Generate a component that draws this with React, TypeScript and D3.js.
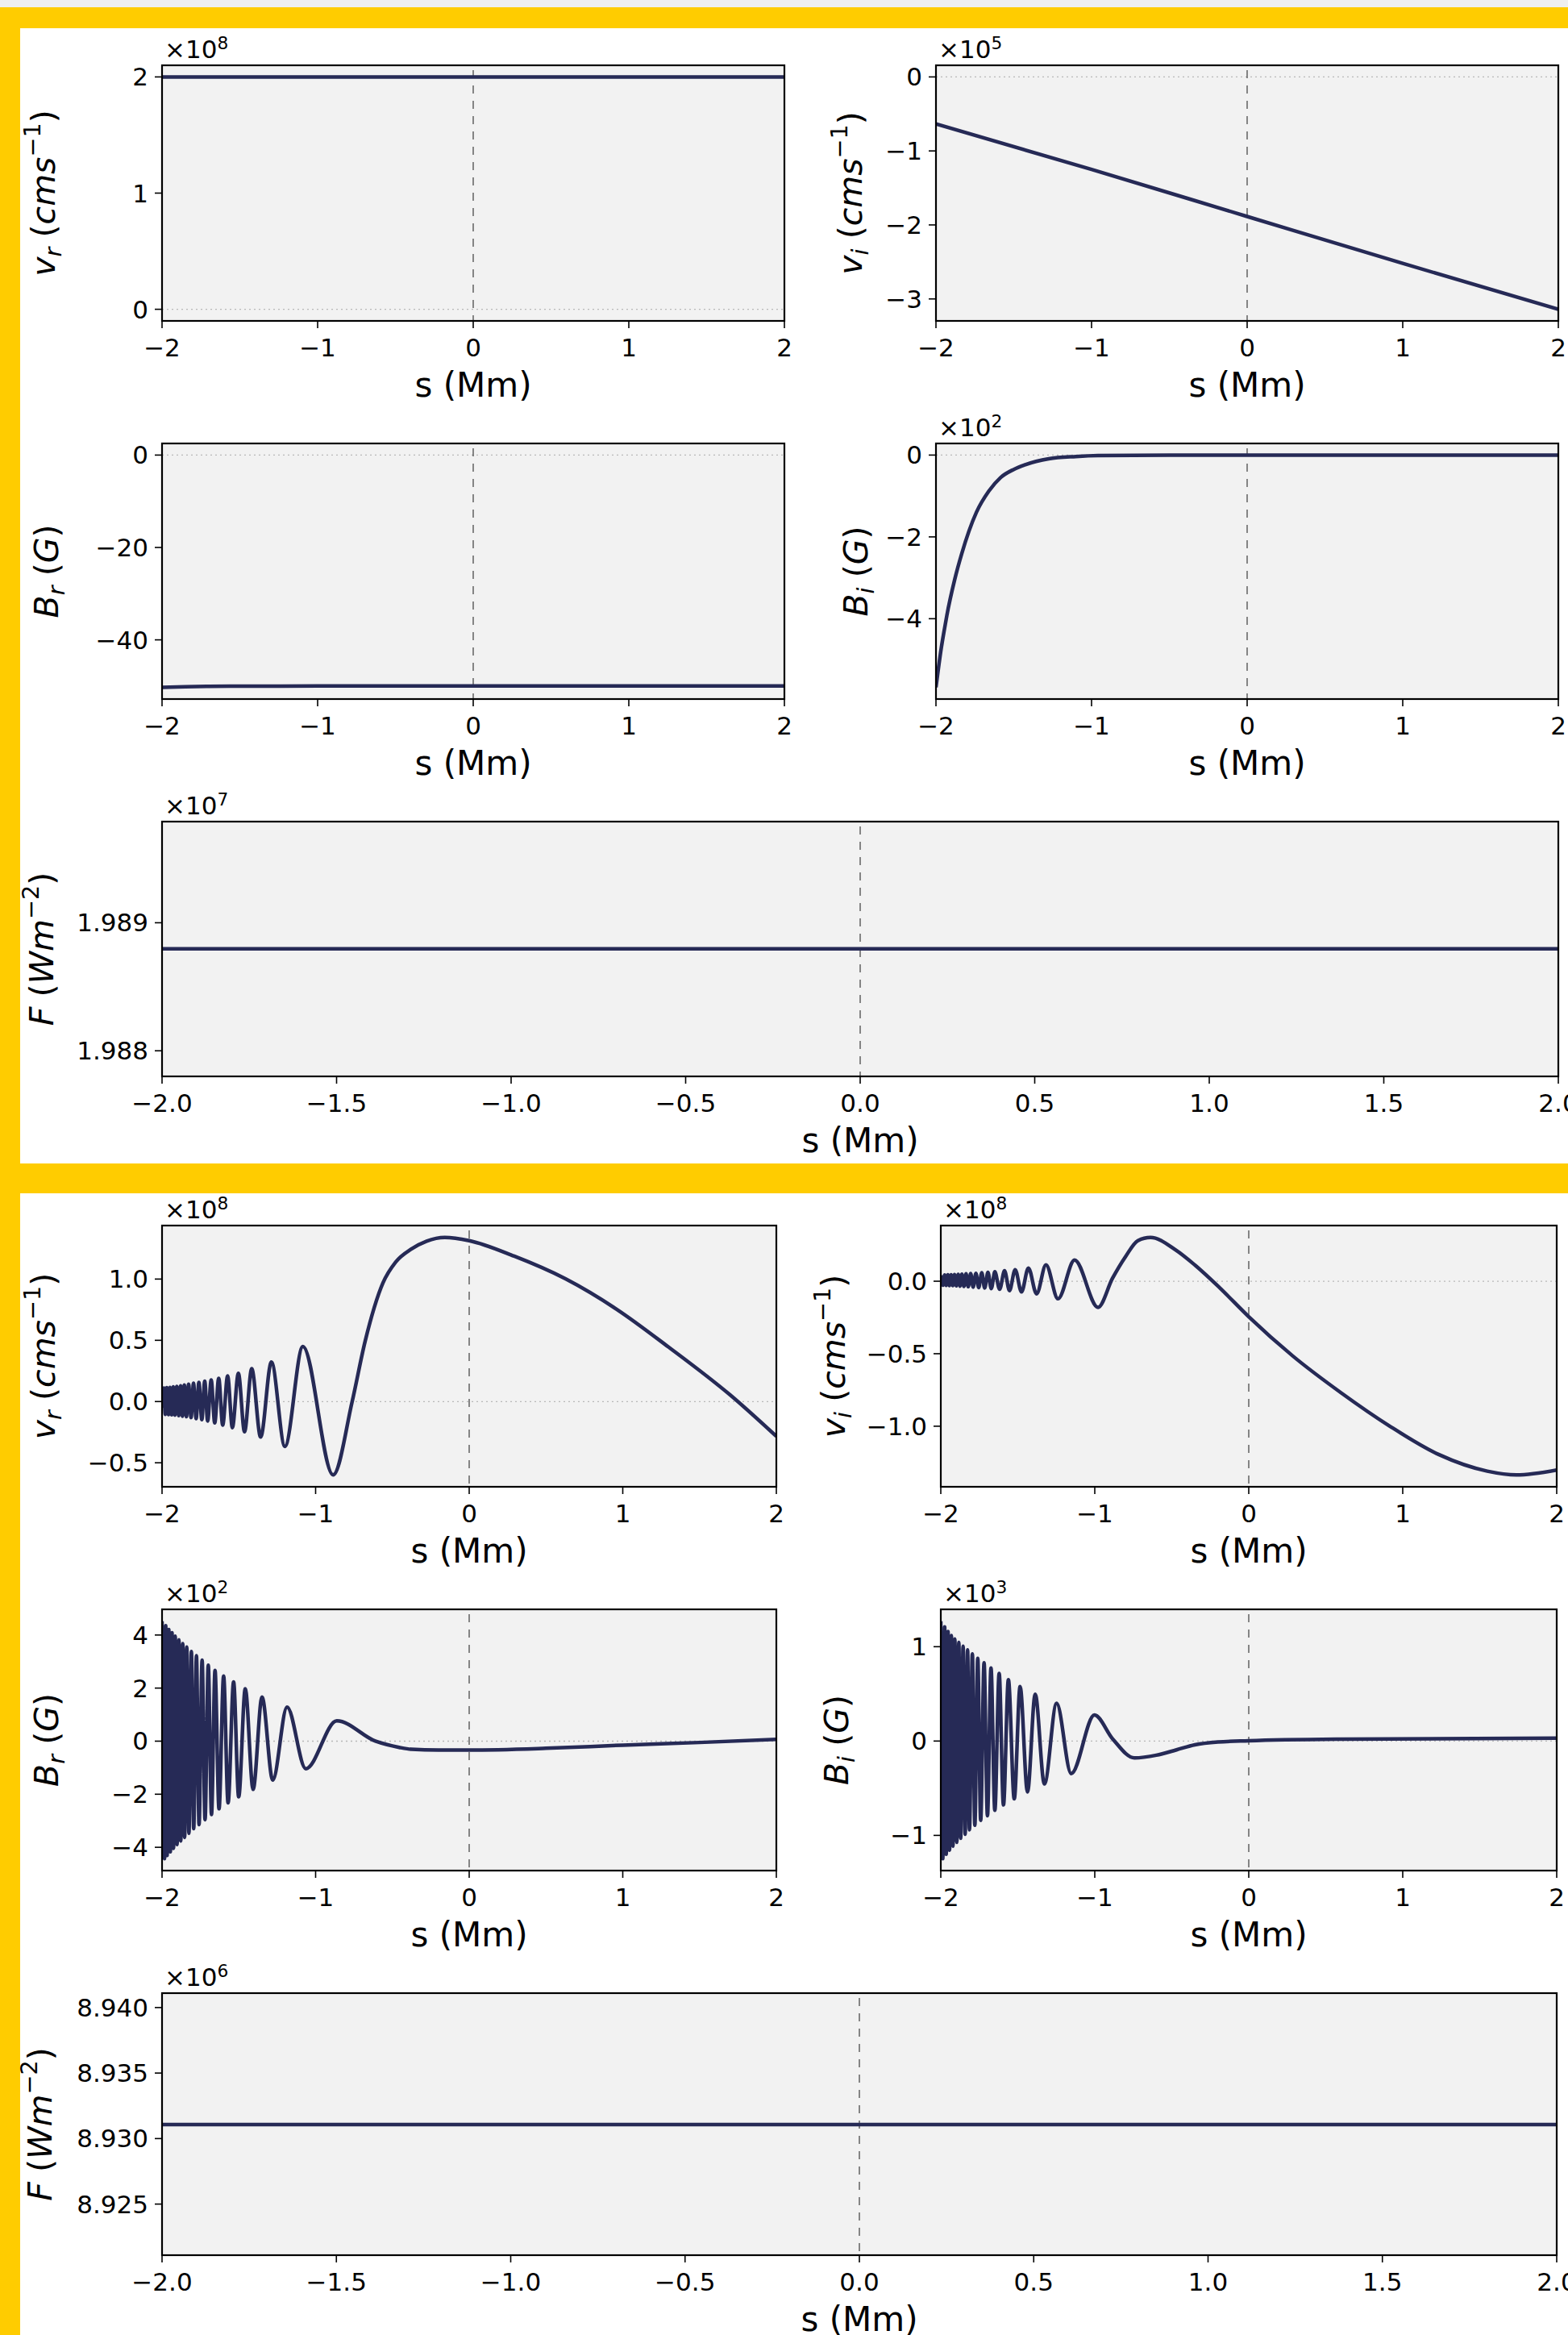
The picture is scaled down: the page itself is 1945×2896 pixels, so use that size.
import * as d3 from "d3";
import React from "react";

// two cases of a wave solution along s, each value in units of its axis offset (x10^n)

const FONT = "DejaVu Sans, Liberation Sans, sans-serif";
const LINE = "#262a56";
const FACE = "#f2f2f2";
const YELLOW = "#ffcc00";

// s axis ticks
const sTicks = [-2, -1, 0, 1, 2];
const sTicksWide = [-2, -1.5, -1, -0.5, 0, 0.5, 1, 1.5, 2];

// ---------- upper case ----------
const upVrS = [-2, 0, 2];
const upVr = [2.0, 2.0, 2.0]; // x1e8
const upViS = [-2, -1, 0, 1, 2];
const upVi = [-0.635, -1.25, -1.886, -2.52, -3.14]; // x1e5
const upBrS = [-2, -1.85, -1.7, -1.5, -1, 2];
const upBr = [-50.3, -50.15, -50.07, -50.02, -50.0, -50.0];
const upBiS = [-2, -1.966, -1.944, -1.93, -1.88, -1.835, -1.74, -1.66, -1.585, -1.5, -1.43, -1.275, -1.1, -0.96, -0.5, 2];
const upBi = [-5.68, -4.72, -4.22, -3.92, -3.05, -2.42, -1.4, -0.88, -0.55, -0.35, -0.24, -0.09, -0.035, -0.012, 0, 0]; // x1e2
const upFS = [-2, 2];
const upF = [1.988796, 1.988796]; // x1e7
const upFLim = [1.9878, 1.98979];

// ---------- lower case ----------
const loVrS = [
  -2.0, -1.988, -1.979, -1.969, -1.958, -1.948, -1.937, -1.927, -1.916, -1.904, -1.891, -1.879,
  -1.867, -1.855, -1.841, -1.827, -1.811, -1.795, -1.778, -1.76, -1.741, -1.722, -1.703, -1.68,
  -1.657, -1.631, -1.605, -1.573, -1.542, -1.503, -1.463, -1.416, -1.358, -1.288, -1.2, -1.083,
  -0.886, -0.762, -0.678, -0.561, -0.478, -0.377, -0.277, -0.159, 0.0, 0.293, 0.627, 0.962,
  1.297, 1.699, 2.0,
];
const loVr = [
  -0.05, 0.111, -0.105, 0.113, -0.107, 0.115, -0.109, 0.12, -0.111, 0.124, -0.115, 0.129,
  -0.12, 0.135, -0.124, 0.142, -0.131, 0.15, -0.139, 0.157, -0.148, 0.166, -0.159, 0.176,
  -0.174, 0.19, -0.192, 0.209, -0.213, 0.231, -0.246, 0.268, -0.29, 0.322, -0.366, 0.45,
  -0.599, 0.0, 0.49, 0.97, 1.14, 1.245, 1.31, 1.34, 1.314, 1.187, 1.002, 0.752,
  0.446, 0.054, -0.284,
]; // x1e8

const loViS = [
  -2.0, -1.985, -1.975, -1.965, -1.954, -1.944, -1.933, -1.922, -1.911, -1.899, -1.887, -1.875,
  -1.863, -1.85, -1.836, -1.822, -1.806, -1.79, -1.772, -1.754, -1.734, -1.715, -1.694, -1.672,
  -1.649, -1.618, -1.586, -1.554, -1.517, -1.476, -1.431, -1.378, -1.317, -1.239, -1.131, -0.979,
  -0.885, -0.8, -0.72, -0.638, -0.474, -0.348, -0.189, 0.0, 0.285, 0.6, 0.916, 1.233,
  1.549, 1.738, 2.0,
];
const loVi = [
  0.04, -0.028, 0.043, -0.029, 0.044, -0.03, 0.045, -0.031, 0.046, -0.032, 0.047, -0.034,
  0.049, -0.036, 0.051, -0.038, 0.053, -0.041, 0.055, -0.044, 0.058, -0.047, 0.061, -0.051,
  0.065, -0.056, 0.072, -0.065, 0.08, -0.074, 0.091, -0.087, 0.113, -0.121, 0.146, -0.18,
  0.02, 0.17, 0.28, 0.302, 0.215, 0.11, -0.045, -0.245, -0.515, -0.77, -1.0, -1.195,
  -1.31, -1.336, -1.302,
]; // x1e8

const loBrS = [
  -2.0, -1.984, -1.976, -1.967, -1.956, -1.946, -1.935, -1.925, -1.914, -1.902, -1.89, -1.878,
  -1.865, -1.853, -1.839, -1.825, -1.809, -1.794, -1.776, -1.759, -1.739, -1.72, -1.699, -1.678,
  -1.655, -1.629, -1.599, -1.57, -1.534, -1.501, -1.458, -1.407, -1.349, -1.279, -1.186, -1.064,
  -0.862, -0.611, -0.456, -0.377, -0.2, 0.0, 0.5, 1.0, 1.5, 2.0,
];
const loBr = [
  4.52, -4.43, 4.35, -4.31, 4.21, -4.17, 4.09, -4.04, 3.96, -3.895, 3.82, -3.762,
  3.679, -3.628, 3.546, -3.474, 3.381, -3.299, 3.217, -3.145, 3.052, -2.96, 2.867, -2.765,
  2.662, -2.549, 2.456, -2.323, 2.23, -2.097, 1.973, -1.819, 1.665, -1.47, 1.285, -1.038,
  0.765, 0.0, -0.235, -0.306, -0.335, -0.336, -0.27, -0.15, -0.05, 0.07,
]; // x1e2

const loBiS = [
  -2.0, -1.987, -1.975, -1.965, -1.953, -1.943, -1.931, -1.921, -1.909, -1.896, -1.883, -1.871,
  -1.855, -1.842, -1.826, -1.814, -1.795, -1.779, -1.76, -1.741, -1.719, -1.697, -1.674, -1.649,
  -1.621, -1.593, -1.561, -1.523, -1.485, -1.437, -1.387, -1.327, -1.248, -1.153, -1.002, -0.885,
  -0.742, -0.6, -0.469, -0.35, -0.2, 0.0, 0.6, 2.0,
];
const loBi = [
  1.27, -1.247, 1.211, -1.2, 1.16, -1.157, 1.119, -1.114, 1.082, -1.074, 1.045, -1.031,
  1.004, -0.988, 0.967, -0.941, 0.924, -0.893, 0.877, -0.841, 0.829, -0.792, 0.774, -0.734,
  0.717, -0.677, 0.65, -0.613, 0.578, -0.539, 0.497, -0.455, 0.4, -0.345, 0.276, 0.025,
  -0.179, -0.15, -0.093, -0.04, -0.01, 0.003, 0.02, 0.031,
]; // x1e3

const loFS = [-2, 2];
const loF = [8.93107, 8.93107]; // x1e6
const loFLim = [8.9211, 8.9411];

// y tick values
const upVrTicks = [0, 1, 2];
const upViTicks = [-3, -2, -1, 0];
const upBrTicks = [-40, -20, 0];
const upBiTicks = [-4, -2, 0];
const upFTicks = [1.988, 1.989];
const loVrTicks = [-0.5, 0.0, 0.5, 1.0];
const loViTicks = [-1.0, -0.5, 0.0];
const loBrTicks = [-4, -2, 0, 2, 4];
const loBiTicks = [-1, 0, 1];
const loFTicks = [8.925, 8.93, 8.935, 8.94];

type Part = { t: string; it?: boolean; sub?: boolean; sup?: boolean; gap?: number };

const labVr: Part[] = [{ t: "v", it: true }, { t: "r", it: true, sub: true }, { t: "(", gap: 0.3 }, { t: "cms", it: true }, { t: "−1", sup: true }, { t: ")" }];
const labVi: Part[] = [{ t: "v", it: true }, { t: "i", it: true, sub: true }, { t: "(", gap: 0.3 }, { t: "cms", it: true }, { t: "−1", sup: true }, { t: ")" }];
const labBr: Part[] = [{ t: "B", it: true }, { t: "r", it: true, sub: true }, { t: "(", gap: 0.3 }, { t: "G", it: true }, { t: ")" }];
const labBi: Part[] = [{ t: "B", it: true }, { t: "i", it: true, sub: true }, { t: "(", gap: 0.3 }, { t: "G", it: true }, { t: ")" }];
const labF: Part[] = [{ t: "F", it: true }, { t: "(", gap: 0.3 }, { t: "Wm", it: true }, { t: "−2", sup: true }, { t: ")" }];

function Rich({ parts, size, supShift = 0.42 }: { parts: Part[]; size: number; supShift?: number }) {
  let cur = 0;
  return (
    <>
      {parts.map((p, i) => {
        const off = p.sub ? 0.2 * size : p.sup ? -supShift * size : 0;
        const dy = off - cur;
        cur = off;
        return (
          <tspan
            key={i}
            dy={dy}
            dx={(p.gap ?? 0) * size}
            fontStyle={p.it ? "italic" : "normal"}
            fontSize={p.sub || p.sup ? size * 0.7 : size}
          >
            {p.t}
          </tspan>
        );
      })}
    </>
  );
}

type PanelCfg = {
  key: string;
  s: number[];
  v: number[];
  lim?: number[];
  yTicks: number[];
  yFmt: string;
  xTicks: number[];
  xFmt: string;
  zero: boolean;
  exp?: string;
  label: Part[];
  box: number[];
  labelX: number;
};

const panels: PanelCfg[] = [
  { key: "uvr", s: upVrS, v: upVr, yTicks: upVrTicks, yFmt: "d", xTicks: sTicks, xFmt: "d", zero: true, exp: "8", label: labVr, box: [201, 81, 973, 398], labelX: 54 },
  { key: "uvi", s: upViS, v: upVi, yTicks: upViTicks, yFmt: "d", xTicks: sTicks, xFmt: "d", zero: true, exp: "5", label: labVi, box: [1161, 81, 1933, 398], labelX: 1055 },
  { key: "ubr", s: upBrS, v: upBr, yTicks: upBrTicks, yFmt: "d", xTicks: sTicks, xFmt: "d", zero: true, label: labBr, box: [201, 550, 973, 867], labelX: 58 },
  { key: "ubi", s: upBiS, v: upBi, yTicks: upBiTicks, yFmt: "d", xTicks: sTicks, xFmt: "d", zero: true, exp: "2", label: labBi, box: [1161, 550, 1933, 867], labelX: 1062 },
  { key: "uf", s: upFS, v: upF, lim: upFLim, yTicks: upFTicks, yFmt: ".3f", xTicks: sTicksWide, xFmt: ".1f", zero: false, exp: "7", label: labF, box: [201, 1019, 1933, 1335], labelX: 52 },
  { key: "lvr", s: loVrS, v: loVr, yTicks: loVrTicks, yFmt: ".1f", xTicks: sTicks, xFmt: "d", zero: true, exp: "8", label: labVr, box: [201, 1520, 963, 1844], labelX: 54 },
  { key: "lvi", s: loViS, v: loVi, yTicks: loViTicks, yFmt: ".1f", xTicks: sTicks, xFmt: "d", zero: true, exp: "8", label: labVi, box: [1167, 1520, 1931, 1844], labelX: 1034 },
  { key: "lbr", s: loBrS, v: loBr, yTicks: loBrTicks, yFmt: "d", xTicks: sTicks, xFmt: "d", zero: true, exp: "2", label: labBr, box: [201, 1996, 963, 2320], labelX: 58 },
  { key: "lbi", s: loBiS, v: loBi, yTicks: loBiTicks, yFmt: "d", xTicks: sTicks, xFmt: "d", zero: true, exp: "3", label: labBi, box: [1167, 1996, 1931, 2320], labelX: 1038 },
  { key: "lf", s: loFS, v: loF, lim: loFLim, yTicks: loFTicks, yFmt: ".3f", xTicks: sTicksWide, xFmt: ".1f", zero: false, exp: "6", label: labF, box: [201, 2472, 1931, 2797], labelX: 50 },
];

const TICK = 31;
const LABEL = 41;

function Panel({ p }: { p: PanelCfg }) {
  const [x0, y0, x1, y1] = p.box;
  const x = d3.scaleLinear().domain([-2, 2]).range([x0, x1]);
  let dom = p.lim;
  if (!dom) {
    const [lo, hi] = d3.extent([...p.v, 0]) as [number, number];
    const pad = (hi - lo) * 0.05;
    dom = [lo - pad, hi + pad];
  }
  const y = d3.scaleLinear().domain(dom).range([y1, y0]);
  const pts = p.s.map((s, i) => [s, p.v[i]] as [number, number]);
  const line = d3
    .line<[number, number]>()
    .x((d) => x(d[0]))
    .y((d) => y(d[1]))
    .curve(d3.curveMonotoneX);
  const fx = d3.format(p.xFmt);
  const fy = d3.format(p.yFmt);
  const cy = (y0 + y1) / 2;

  return (
    <g>
      <defs>
        <clipPath id={`clip-${p.key}`}>
          <rect x={x0} y={y0} width={x1 - x0} height={y1 - y0} />
        </clipPath>
      </defs>
      <rect x={x0} y={y0} width={x1 - x0} height={y1 - y0} fill={FACE} />
      {p.zero && (
        <line x1={x0} x2={x1} y1={y(0)} y2={y(0)} stroke="#b8b8b8" strokeWidth={1.3} strokeDasharray="2,4" />
      )}
      <line x1={x(0)} x2={x(0)} y1={y0 + 6} y2={y1} stroke="#4a4a4a" strokeWidth={1.3} strokeDasharray="10,9" />
      <path
        d={line(pts) ?? ""}
        clipPath={`url(#clip-${p.key})`}
        fill="none"
        stroke={LINE}
        strokeWidth={4.5}
        strokeLinejoin="round"
      />
      <rect x={x0} y={y0} width={x1 - x0} height={y1 - y0} fill="none" stroke="#000" strokeWidth={2.2} />

      {/* x axis */}
      {p.xTicks.map((t) => (
        <g key={`x${t}`}>
          <line x1={x(t)} x2={x(t)} y1={y1} y2={y1 + 9} stroke="#000" strokeWidth={1.6} />
          <text x={x(t)} y={y1 + 44} textAnchor="middle" fontSize={TICK}>
            {fx(t)}
          </text>
        </g>
      ))}
      <text x={(x0 + x1) / 2} y={y1 + 94} textAnchor="middle" fontSize={LABEL + 1}>
        s (Mm)
      </text>

      {/* y axis */}
      {p.yTicks.map((t) => (
        <g key={`y${t}`}>
          <line x1={x0 - 9} x2={x0} y1={y(t)} y2={y(t)} stroke="#000" strokeWidth={1.6} />
          <text x={x0 - 17} y={y(t) + 11} textAnchor="end" fontSize={TICK}>
            {fy(t)}
          </text>
        </g>
      ))}
      <text transform={`translate(${p.labelX + 0.33 * LABEL},${cy}) rotate(-90)`} textAnchor="middle" fontSize={LABEL}>
        <Rich parts={p.label} size={LABEL} />
      </text>

      {p.exp && (
        <text x={x0 + 3} y={y0 - 9} fontSize={TICK}>
          <Rich parts={[{ t: "×10" }, { t: p.exp, sup: true }]} size={TICK} supShift={0.36} />
        </text>
      )}
    </g>
  );
}

export default function App() {
  const W = 1945;
  const H = 2896;
  return (
    <svg
      width={W}
      height={H}
      style={{ position: "absolute", left: 0, top: 0, display: "block" }}
      fontFamily={FONT}
    >
      <rect x={0} y={0} width={W} height={H} fill="#fff" />
      <rect x={0} y={0} width={W} height={9} fill="#efefef" />
      <rect x={0} y={9} width={W} height={26} fill={YELLOW} />
      <rect x={0} y={9} width={25} height={H - 9} fill={YELLOW} />
      <rect x={0} y={1443} width={W} height={37} fill={YELLOW} />
      {panels.map((p) => (
        <Panel key={p.key} p={p} />
      ))}
    </svg>
  );
}
